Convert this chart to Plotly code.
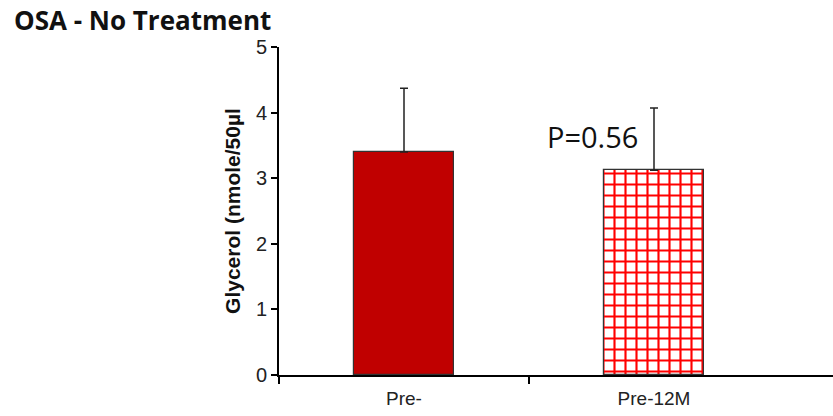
import plotly.graph_objects as go

categories = ["Pre-", "Pre-12M"]
means = [3.40, 3.12]
err_plus = [0.97, 0.95]
y_ticks = [0, 1, 2, 3, 4, 5]
p_label = "P=0.56"

xpos = list(range(len(categories)))

err_style = dict(type="data", symmetric=False, color="#222222", thickness=1.5, width=4)

fig = go.Figure()
fig.add_trace(go.Bar(
    x=[xpos[0]], y=[means[0]], width=0.4,
    marker=dict(color="#C00000", line=dict(color="#333333", width=1.2)),
    error_y=dict(array=[err_plus[0]], arrayminus=[0], **err_style),
    showlegend=False,
))
fig.add_trace(go.Bar(
    x=[xpos[1]], y=[means[1]], width=0.4,
    marker=dict(color="white", line=dict(color="#333333", width=1.2),
                pattern=dict(shape="+", fgcolor="#FF0000", bgcolor="white", size=11,
                             solidity=0.35, fgopacity=1)),
    error_y=dict(array=[err_plus[1]], arrayminus=[0], **err_style),
    showlegend=False,
))

fig.update_layout(
    width=833, height=416,
    margin=dict(l=279, r=0, t=47, b=41),
    paper_bgcolor="white", plot_bgcolor="white",
    bargap=0,
    title=dict(text="<b>OSA - No Treatment</b>", x=14/833, xref="container", xanchor="left",
               y=1 - 21/416, yref="container", yanchor="middle",
               font=dict(family="Open Sans", size=26, color="#111111")),
    xaxis=dict(range=[-0.5, 1.716], tickvals=xpos, ticktext=categories, ticks="",
               showline=True, linecolor="black", linewidth=2, showgrid=False, zeroline=False,
               ticklabelstandoff=5,
               tickfont=dict(family="Liberation Sans", size=19, color="#222222"),
               minor=dict(tickvals=[-0.5, 0.5], ticks="outside", ticklen=7, tickwidth=2,
                          tickcolor="black", showgrid=False)),
    yaxis=dict(range=[0, 5], tickvals=y_ticks, ticks="outside", ticklen=6, tickwidth=1.5,
               tickcolor="black", showline=True, linecolor="black", linewidth=2,
               showgrid=False, zeroline=False,
               tickfont=dict(family="Liberation Sans", size=20, color="#222222"),
               title=dict(text="<b>Glycerol (nmole/50µl</b>",
                          font=dict(family="Liberation Sans", size=21, color="#111111"),
                          standoff=10)),
)

fig.add_annotation(x=0.564, y=3.64, xref="x", yref="y", text=p_label, showarrow=False,
                   xanchor="left", yanchor="middle",
                   font=dict(family="Open Sans", size=29, color="#111111"))

fig.write_html("out.html")
